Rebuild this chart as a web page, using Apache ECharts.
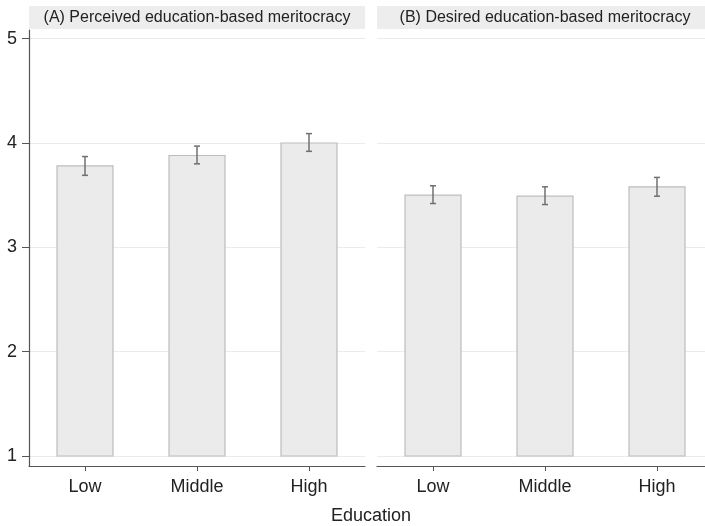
<!DOCTYPE html>
<html>
<head>
<meta charset="utf-8">
<script src="https://cdn.jsdelivr.net/npm/echarts@6/dist/echarts.min.js"></script>
<style>html,body{margin:0;padding:0;background:#fff}#c{width:705px;height:526px}</style>
</head>
<body>
<div id="c"></div>
<script>
const categories = ['Low', 'Middle', 'High'];
const yTicks = [1, 2, 3, 4, 5];
const panelTitles = ['(A) Perceived education-based meritocracy', '(B) Desired education-based meritocracy'];
const xTitle = 'Education';
const perceivedMean = [3.78, 3.88, 4.00];
const perceivedLow = [3.69, 3.80, 3.92];
const perceivedHigh = [3.87, 3.97, 4.09];
const desiredMean = [3.50, 3.49, 3.58];
const desiredLow = [3.42, 3.41, 3.49];
const desiredHigh = [3.59, 3.58, 3.67];

const FONT = "'Liberation Sans', Arial, Helvetica, sans-serif";
const chart = echarts.init(document.getElementById('c'), null, {renderer: 'canvas'});

const grids = [
  {left: 29, top: 30, width: 336, height: 436, outerBoundsMode: 'none', containLabel: false},
  {left: 377, top: 30, width: 336, height: 436, outerBoundsMode: 'none', containLabel: false}
];

function xAxisDef(i) {
  return {
    type: 'category', gridIndex: i, data: categories,
    axisLine: {show: true, lineStyle: {color: '#555', width: 1.2}},
    axisTick: {show: true, alignWithLabel: true, length: 5, lineStyle: {color: '#555'}},
    axisLabel: {color: '#222', fontSize: 18, fontFamily: FONT, margin: 12},
    splitLine: {show: false}
  };
}
function yAxisDef(i) {
  return {
    type: 'value', gridIndex: i, min: 0.904, max: 5.083,
    axisLine: {show: i === 0, lineStyle: {color: '#555', width: 1.2}},
    axisTick: {show: i === 0, length: 7, customValues: yTicks, lineStyle: {color: '#555'}},
    axisLabel: {show: i === 0, customValues: yTicks, color: '#222', fontSize: 18, fontFamily: FONT, margin: 12},
    splitLine: {show: true, lineStyle: {color: '#ebebeb', width: 1.2}}
  };
}

function barRender(params, api) {
  const x = api.value(0), v = api.value(1);
  const top = api.coord([x, v]);
  const base = api.coord([x, 1]);
  const w = api.size([1, 0])[0] * 0.5;
  return {
    type: 'rect',
    shape: {x: top[0] - w / 2, y: top[1], width: w, height: base[1] - top[1]},
    style: {fill: '#ebebeb', stroke: '#bdbdbd', lineWidth: 1.2}
  };
}
function errRender(params, api) {
  const x = api.value(0);
  const lo = api.coord([x, api.value(1)]);
  const hi = api.coord([x, api.value(2)]);
  const cw = 3;
  const st = {stroke: '#707070', lineWidth: 1.5};
  return {
    type: 'group',
    children: [
      {type: 'line', shape: {x1: lo[0], y1: lo[1], x2: hi[0], y2: hi[1]}, style: st},
      {type: 'line', shape: {x1: hi[0] - cw, y1: hi[1], x2: hi[0] + cw, y2: hi[1]}, style: st},
      {type: 'line', shape: {x1: lo[0] - cw, y1: lo[1], x2: lo[0] + cw, y2: lo[1]}, style: st}
    ]
  };
}

const panels = [
  {mean: perceivedMean, lo: perceivedLow, hi: perceivedHigh},
  {mean: desiredMean, lo: desiredLow, hi: desiredHigh}
];
const series = [];
panels.forEach((p, i) => {
  series.push({
    type: 'custom', xAxisIndex: i, yAxisIndex: i, renderItem: barRender,
    encode: {x: 0, y: 1},
    data: categories.map((c, k) => [k, p.mean[k]]), z: 2
  });
  series.push({
    type: 'custom', xAxisIndex: i, yAxisIndex: i, renderItem: errRender,
    encode: {x: 0, y: [1, 2]},
    data: categories.map((c, k) => [k, p.lo[k], p.hi[k]]), z: 3
  });
});

const graphic = [];
grids.forEach((g, i) => {
  graphic.push({
    type: 'rect', left: g.left, top: 6,
    shape: {width: g.width, height: 23},
    style: {fill: '#ededed'}, silent: true
  });
  graphic.push({
    type: 'text', x: g.left + g.width / 2, y: 17.5,
    style: {text: panelTitles[i], fill: '#222', fontSize: 16, fontFamily: FONT, align: 'center', verticalAlign: 'middle'},
    silent: true
  });
});
graphic.push({
  type: 'text', x: 371, y: 516,
  style: {text: xTitle, fill: '#222', fontSize: 18, fontFamily: FONT, align: 'center', verticalAlign: 'middle'},
  silent: true
});

chart.setOption({
  animation: false,
  backgroundColor: '#fff',
  grid: grids,
  xAxis: [xAxisDef(0), xAxisDef(1)],
  yAxis: [yAxisDef(0), yAxisDef(1)],
  series: series,
  graphic: graphic
});
</script>
</body>
</html>
